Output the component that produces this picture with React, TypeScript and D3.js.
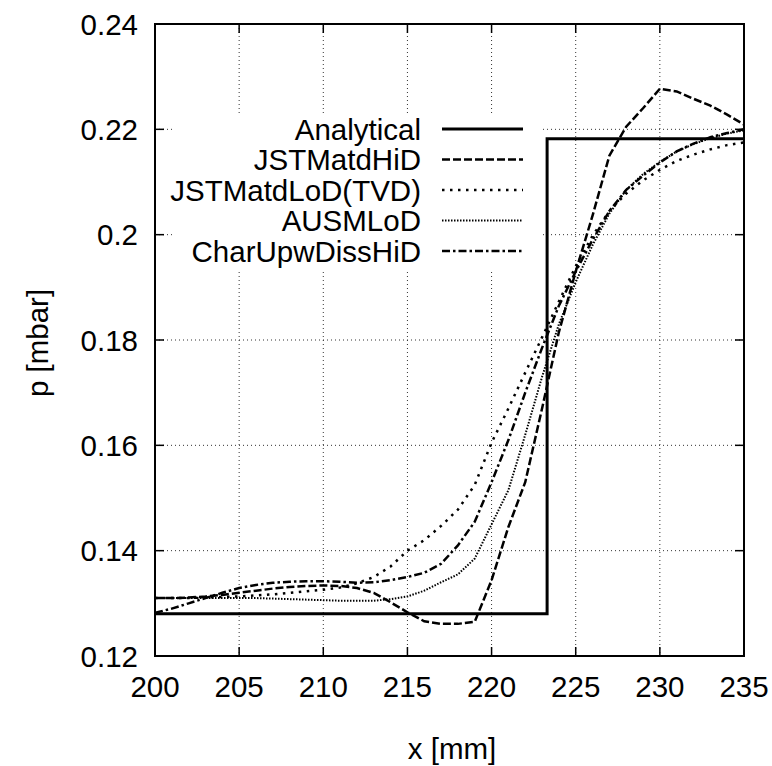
import React from "react";
import * as d3 from "d3";

const xs = [200,201,202,203,204,205,206,207,208,209,210,211,212,213,214,215,216,217,218,219,220,221,222,223,224,225,226,227,228,229,230,231,232,233,234,235];

const analyticalX = [200, 223.3, 223.3, 235];
const analyticalY = [0.128, 0.128, 0.2182, 0.2182];

const jstHiD = [.1310,.1310,.1311,.1313,.1316,.1320,.1324,.1328,.1331,.1333,.1334,.1333,.1329,.1320,.1302,.1283,.1266,.1261,.1261,.1265,.1344,.1445,.1530,.1670,.1815,.1930,.2036,.2150,.2205,.2240,.2277,.2272,.2258,.2245,.2228,.2209];
const jstLoDTVD = [.1310,.1310,.1310,.1311,.1312,.1313,.1315,.1317,.1320,.1323,.1326,.1330,.1338,.1350,.1370,.1400,.1420,.1447,.1478,.1525,.1605,.1670,.1738,.1805,.1873,.1940,.1998,.2045,.2078,.2103,.2123,.2140,.2152,.2162,.2170,.2175];
const ausmLoD = [.1310,.1310,.1310,.1310,.1310,.1310,.1310,.1309,.1308,.1307,.1306,.1305,.1305,.1305,.1308,.1313,.1324,.1340,.1355,.1385,.1450,.1515,.1620,.1730,.1830,.1910,.1980,.2040,.2085,.2115,.2138,.2158,.2172,.2183,.2192,.2198];
const charUpw = [.1282,.1290,.1300,.1310,.1320,.1329,.1335,.1339,.1341,.1342,.1342,.1341,.1339,.1340,.1344,.1350,.1358,.1375,.1410,.1455,.1530,.1610,.1700,.1785,.1865,.1930,.1990,.2045,.2085,.2112,.2137,.2158,.2173,.2185,.2193,.2200];

const xTicks = [200,205,210,215,220,225,230,235];
const yTicks = [0.12,0.14,0.16,0.18,0.2,0.22,0.24];
const yTickLabels = ["0.12","0.14","0.16","0.18","0.2","0.22","0.24"];

const seriesNames = ["Analytical","JSTMatdHiD","JSTMatdLoD(TVD)","AUSMLoD","CharUpwDissHiD"];
const seriesDash = ["none","8,3","2.5,5.5","1.5,1.5","8,3,2.5,3"];
const seriesWidth = [3,2.5,2.5,2,2.5];

export default function App() {
  const L = 155, R = 744, T = 24, B = 656;
  const x = d3.scaleLinear().domain([200,235]).range([L,R]);
  const y = d3.scaleLinear().domain([0.12,0.24]).range([B,T]);
  const line = d3.line<[number,number]>().x(d => x(d[0])).y(d => y(d[1]));
  const curves: [number,number][][] = [
    analyticalX.map((v,i) => [v, analyticalY[i]]),
    xs.map((v,i) => [v, jstHiD[i]]),
    xs.map((v,i) => [v, jstLoDTVD[i]]),
    xs.map((v,i) => [v, ausmLoD[i]]),
    xs.map((v,i) => [v, charUpw[i]]),
  ];
  const font = "'Liberation Sans', Arial, Helvetica, sans-serif";
  const fs = 29.5;
  const legX1 = 442, legX2 = 523, legTextX = 421, legY0 = 129, legDy = 30.5;
  return (
    <svg width={772} height={766} style={{position:"absolute",left:0,top:0,background:"#fff"}} fontFamily={font}>
      <rect x={0} y={0} width={772} height={766} fill="#fff"/>
      <defs>
        <clipPath id="plot"><rect x={L} y={T} width={R-L} height={B-T}/></clipPath>
      </defs>
      {/* grid */}
      {xTicks.slice(1,-1).map(t => (
        <line key={"gx"+t} x1={x(t)} x2={x(t)} y1={T} y2={B} stroke="#333" strokeWidth={1} strokeDasharray="1,3"/>
      ))}
      {yTicks.slice(1,-1).map(t => (
        <line key={"gy"+t} x1={L} x2={R} y1={y(t)} y2={y(t)} stroke="#333" strokeWidth={1} strokeDasharray="1,3"/>
      ))}
      {/* legend background */}
      <rect x={175} y={113} width={366} height={156} fill="#fff"/>
      {/* ticks */}
      {xTicks.map(t => (
        <g key={"tx"+t}>
          <line x1={x(t)} x2={x(t)} y1={B} y2={B-9} stroke="#000" strokeWidth={1.5}/>
          <line x1={x(t)} x2={x(t)} y1={T} y2={T+9} stroke="#000" strokeWidth={1.5}/>
          <text x={x(t)} y={697} textAnchor="middle" fontSize={fs}>{t}</text>
        </g>
      ))}
      {yTicks.map((t,i) => (
        <g key={"ty"+t}>
          <line x1={L} x2={L+9} y1={y(t)} y2={y(t)} stroke="#000" strokeWidth={1.5}/>
          <line x1={R} x2={R-9} y1={y(t)} y2={y(t)} stroke="#000" strokeWidth={1.5}/>
          <text x={138} y={y(t)+10.5} textAnchor="end" fontSize={fs}>{yTickLabels[i]}</text>
        </g>
      ))}
      {/* curves */}
      <g clipPath="url(#plot)">
        {curves.map((c,i) => (
          <path key={"c"+i} d={line(c) || ""} fill="none" stroke="#000" strokeWidth={seriesWidth[i]}
            strokeDasharray={seriesDash[i]} strokeLinejoin="miter"/>
        ))}
      </g>
      {/* legend */}
      {seriesNames.map((n,i) => (
        <g key={"l"+i}>
          <text x={legTextX} y={legY0 + i*legDy + 10.5} textAnchor="end" fontSize={fs}>{n}</text>
          <line x1={legX1} x2={legX2} y1={legY0 + i*legDy} y2={legY0 + i*legDy} stroke="#000"
            strokeWidth={seriesWidth[i]} strokeDasharray={seriesDash[i]}/>
        </g>
      ))}
      {/* frame */}
      <rect x={L} y={T} width={R-L} height={B-T} fill="none" stroke="#000" strokeWidth={2}/>
      {/* axis labels */}
      <text x={452} y={759} textAnchor="middle" fontSize={fs}>x [mm]</text>
      <text transform={`translate(48,${(T+B)/2 + 3}) rotate(-90)`} textAnchor="middle" fontSize={fs}>p [mbar]</text>
    </svg>
  );
}
